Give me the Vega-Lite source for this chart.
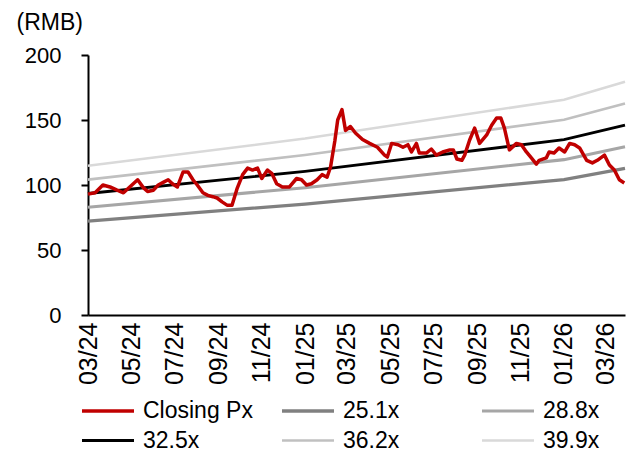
{
  "$schema": "https://vega.github.io/schema/vega-lite/v6.json",
  "width": 537,
  "height": 260,
  "autosize": {"type": "none"},
  "padding": {"left": 88, "top": 55, "right": 11, "bottom": 136},
  "background": "white",
  "config": {
    "view": {"stroke": null},
    "font": "Liberation Sans",
    "axis": {"labelFont": "Liberation Sans", "titleFont": "Liberation Sans", "labelColor": "black", "titleColor": "black", "grid": false, "domainColor": "black", "domainWidth": 2, "tickColor": "black", "tickWidth": 2},
    "legend": {"labelFont": "Liberation Sans"}
  },
  "datasets": {
    "price": [
      {"date": "2024-03-01", "s": "Closing Px", "v": 93},
      {"date": "2024-03-11", "s": "Closing Px", "v": 94},
      {"date": "2024-03-22", "s": "Closing Px", "v": 100},
      {"date": "2024-04-01", "s": "Closing Px", "v": 98.5},
      {"date": "2024-04-11", "s": "Closing Px", "v": 96},
      {"date": "2024-04-20", "s": "Closing Px", "v": 94},
      {"date": "2024-04-30", "s": "Closing Px", "v": 99},
      {"date": "2024-05-10", "s": "Closing Px", "v": 104},
      {"date": "2024-05-18", "s": "Closing Px", "v": 98},
      {"date": "2024-05-24", "s": "Closing Px", "v": 95},
      {"date": "2024-06-01", "s": "Closing Px", "v": 96},
      {"date": "2024-06-08", "s": "Closing Px", "v": 100},
      {"date": "2024-06-15", "s": "Closing Px", "v": 102},
      {"date": "2024-06-22", "s": "Closing Px", "v": 104},
      {"date": "2024-06-28", "s": "Closing Px", "v": 101},
      {"date": "2024-07-05", "s": "Closing Px", "v": 98.5},
      {"date": "2024-07-13", "s": "Closing Px", "v": 110},
      {"date": "2024-07-20", "s": "Closing Px", "v": 110},
      {"date": "2024-07-27", "s": "Closing Px", "v": 104},
      {"date": "2024-08-02", "s": "Closing Px", "v": 100},
      {"date": "2024-08-10", "s": "Closing Px", "v": 94},
      {"date": "2024-08-17", "s": "Closing Px", "v": 92},
      {"date": "2024-08-24", "s": "Closing Px", "v": 91},
      {"date": "2024-08-30", "s": "Closing Px", "v": 90},
      {"date": "2024-09-06", "s": "Closing Px", "v": 87},
      {"date": "2024-09-13", "s": "Closing Px", "v": 84.5},
      {"date": "2024-09-20", "s": "Closing Px", "v": 84.5},
      {"date": "2024-09-27", "s": "Closing Px", "v": 97},
      {"date": "2024-10-05", "s": "Closing Px", "v": 108},
      {"date": "2024-10-12", "s": "Closing Px", "v": 113},
      {"date": "2024-10-19", "s": "Closing Px", "v": 111.5},
      {"date": "2024-10-26", "s": "Closing Px", "v": 113},
      {"date": "2024-11-01", "s": "Closing Px", "v": 105},
      {"date": "2024-11-09", "s": "Closing Px", "v": 111.5},
      {"date": "2024-11-15", "s": "Closing Px", "v": 109},
      {"date": "2024-11-22", "s": "Closing Px", "v": 101},
      {"date": "2024-11-30", "s": "Closing Px", "v": 98.5},
      {"date": "2024-12-10", "s": "Closing Px", "v": 98.5},
      {"date": "2024-12-20", "s": "Closing Px", "v": 105},
      {"date": "2024-12-27", "s": "Closing Px", "v": 104},
      {"date": "2025-01-03", "s": "Closing Px", "v": 100},
      {"date": "2025-01-10", "s": "Closing Px", "v": 101},
      {"date": "2025-01-18", "s": "Closing Px", "v": 104},
      {"date": "2025-01-25", "s": "Closing Px", "v": 108},
      {"date": "2025-02-01", "s": "Closing Px", "v": 106},
      {"date": "2025-02-06", "s": "Closing Px", "v": 114},
      {"date": "2025-02-12", "s": "Closing Px", "v": 134},
      {"date": "2025-02-16", "s": "Closing Px", "v": 150},
      {"date": "2025-02-22", "s": "Closing Px", "v": 158},
      {"date": "2025-02-27", "s": "Closing Px", "v": 142},
      {"date": "2025-03-06", "s": "Closing Px", "v": 145},
      {"date": "2025-03-13", "s": "Closing Px", "v": 140},
      {"date": "2025-03-23", "s": "Closing Px", "v": 135},
      {"date": "2025-04-02", "s": "Closing Px", "v": 132},
      {"date": "2025-04-13", "s": "Closing Px", "v": 129},
      {"date": "2025-04-23", "s": "Closing Px", "v": 123},
      {"date": "2025-04-27", "s": "Closing Px", "v": 121.5},
      {"date": "2025-05-03", "s": "Closing Px", "v": 132},
      {"date": "2025-05-12", "s": "Closing Px", "v": 131},
      {"date": "2025-05-19", "s": "Closing Px", "v": 129},
      {"date": "2025-05-26", "s": "Closing Px", "v": 131},
      {"date": "2025-05-31", "s": "Closing Px", "v": 125.5},
      {"date": "2025-06-07", "s": "Closing Px", "v": 132},
      {"date": "2025-06-11", "s": "Closing Px", "v": 124.6},
      {"date": "2025-06-21", "s": "Closing Px", "v": 124.6},
      {"date": "2025-06-28", "s": "Closing Px", "v": 127.7},
      {"date": "2025-07-05", "s": "Closing Px", "v": 123},
      {"date": "2025-07-14", "s": "Closing Px", "v": 125.4},
      {"date": "2025-07-24", "s": "Closing Px", "v": 127},
      {"date": "2025-07-29", "s": "Closing Px", "v": 127},
      {"date": "2025-08-03", "s": "Closing Px", "v": 120},
      {"date": "2025-08-10", "s": "Closing Px", "v": 119},
      {"date": "2025-08-14", "s": "Closing Px", "v": 123},
      {"date": "2025-08-21", "s": "Closing Px", "v": 134.6},
      {"date": "2025-08-28", "s": "Closing Px", "v": 143.8},
      {"date": "2025-09-04", "s": "Closing Px", "v": 132},
      {"date": "2025-09-14", "s": "Closing Px", "v": 138.5},
      {"date": "2025-09-21", "s": "Closing Px", "v": 146},
      {"date": "2025-09-28", "s": "Closing Px", "v": 151.5},
      {"date": "2025-10-04", "s": "Closing Px", "v": 151.5},
      {"date": "2025-10-09", "s": "Closing Px", "v": 143.8},
      {"date": "2025-10-16", "s": "Closing Px", "v": 127},
      {"date": "2025-10-26", "s": "Closing Px", "v": 132},
      {"date": "2025-11-02", "s": "Closing Px", "v": 131},
      {"date": "2025-11-09", "s": "Closing Px", "v": 125.4},
      {"date": "2025-11-16", "s": "Closing Px", "v": 120.8},
      {"date": "2025-11-23", "s": "Closing Px", "v": 116},
      {"date": "2025-11-27", "s": "Closing Px", "v": 119},
      {"date": "2025-12-07", "s": "Closing Px", "v": 120.8},
      {"date": "2025-12-11", "s": "Closing Px", "v": 125.4},
      {"date": "2025-12-18", "s": "Closing Px", "v": 124.6},
      {"date": "2025-12-25", "s": "Closing Px", "v": 128.5},
      {"date": "2026-01-02", "s": "Closing Px", "v": 125.4},
      {"date": "2026-01-09", "s": "Closing Px", "v": 132},
      {"date": "2026-01-16", "s": "Closing Px", "v": 131},
      {"date": "2026-01-23", "s": "Closing Px", "v": 128.5},
      {"date": "2026-02-02", "s": "Closing Px", "v": 119},
      {"date": "2026-02-10", "s": "Closing Px", "v": 117},
      {"date": "2026-02-17", "s": "Closing Px", "v": 119},
      {"date": "2026-02-27", "s": "Closing Px", "v": 123},
      {"date": "2026-03-06", "s": "Closing Px", "v": 115.4},
      {"date": "2026-03-13", "s": "Closing Px", "v": 111.5},
      {"date": "2026-03-20", "s": "Closing Px", "v": 104},
      {"date": "2026-03-27", "s": "Closing Px", "v": 101.5}
    ],
    "bands": [
      {"date": "2024-03-01", "s": "25.1x", "v": 72.2},
      {"date": "2025-01-01", "s": "25.1x", "v": 85.3},
      {"date": "2026-01-01", "s": "25.1x", "v": 104.2},
      {"date": "2026-03-28", "s": "25.1x", "v": 112.8},
      {"date": "2024-03-01", "s": "28.8x", "v": 82.9},
      {"date": "2025-01-01", "s": "28.8x", "v": 97.9},
      {"date": "2026-01-01", "s": "28.8x", "v": 119.5},
      {"date": "2026-03-28", "s": "28.8x", "v": 129.5},
      {"date": "2024-03-01", "s": "32.5x", "v": 93.5},
      {"date": "2025-01-01", "s": "32.5x", "v": 110.5},
      {"date": "2026-01-01", "s": "32.5x", "v": 134.9},
      {"date": "2026-03-28", "s": "32.5x", "v": 146.1},
      {"date": "2024-03-01", "s": "36.2x", "v": 104.1},
      {"date": "2025-01-01", "s": "36.2x", "v": 123.1},
      {"date": "2026-01-01", "s": "36.2x", "v": 150.2},
      {"date": "2026-03-28", "s": "36.2x", "v": 162.7},
      {"date": "2024-03-01", "s": "39.9x", "v": 114.8},
      {"date": "2025-01-01", "s": "39.9x", "v": 135.7},
      {"date": "2026-01-01", "s": "39.9x", "v": 165.6},
      {"date": "2026-03-28", "s": "39.9x", "v": 179.4}
    ]
  },
  "encoding": {
    "x": {
      "field": "date", "type": "temporal",
      "scale": {"domain": [{"year": 2024, "month": 3, "date": 1}, {"year": 2026, "month": 3, "date": 28}]},
      "axis": {
        "title": null, "format": "%m/%y", "labelAngle": -90, "labelFontSize": 25, "ticks": false, "labelPadding": 7,
        "values": [
          {"year": 2024, "month": 3, "date": 1}, {"year": 2024, "month": 5, "date": 1}, {"year": 2024, "month": 7, "date": 1},
          {"year": 2024, "month": 9, "date": 1}, {"year": 2024, "month": 11, "date": 1}, {"year": 2025, "month": 1, "date": 1},
          {"year": 2025, "month": 3, "date": 1}, {"year": 2025, "month": 5, "date": 1}, {"year": 2025, "month": 7, "date": 1},
          {"year": 2025, "month": 9, "date": 1}, {"year": 2025, "month": 11, "date": 1}, {"year": 2026, "month": 1, "date": 1},
          {"year": 2026, "month": 3, "date": 1}
        ],
        "labelOverlap": false
      }
    },
    "y": {
      "field": "v", "type": "quantitative",
      "scale": {"domain": [0, 200], "nice": false},
      "axis": {
        "title": "(RMB)", "titleAngle": 0, "titleAlign": "left", "titleBaseline": "middle", "titleX": -72, "titleY": -33,
        "titleFontSize": 23, "titleFontWeight": "normal", "labelFontSize": 22, "labelPadding": 20, "tickSize": 7,
        "values": [0, 50, 100, 150, 200]
      }
    },
    "color": {
      "field": "s", "type": "nominal",
      "scale": {
        "domain": ["Closing Px", "25.1x", "28.8x", "32.5x", "36.2x", "39.9x"],
        "range": ["#c00000", "#808080", "#a6a6a6", "#000000", "#c0c0c0", "#d9d9d9"]
      },
      "legend": {
        "title": null, "orient": "none", "direction": "horizontal", "legendX": 5, "legendY": 341, "columns": 3, "gridAlign": "all",
        "columnPadding": 22, "rowPadding": 3, "symbolType": "M-2,0H2", "symbolSize": 676, "labelFontSize": 23,
        "labelColor": "black", "labelOffset": 20, "labelLimit": 300, "padding": 0
      }
    },
    "strokeWidth": {
      "field": "s", "type": "nominal",
      "scale": {"domain": ["Closing Px", "25.1x", "28.8x", "32.5x", "36.2x", "39.9x"], "range": [3.5, 2.5, 2.5, 4, 2.5, 2.5]},
      "legend": null
    }
  },
  "layer": [
    {"data": {"name": "bands"}, "mark": {"type": "line"}},
    {"data": {"name": "price"}, "mark": {"type": "line", "strokeJoin": "round"}}
  ]
}
